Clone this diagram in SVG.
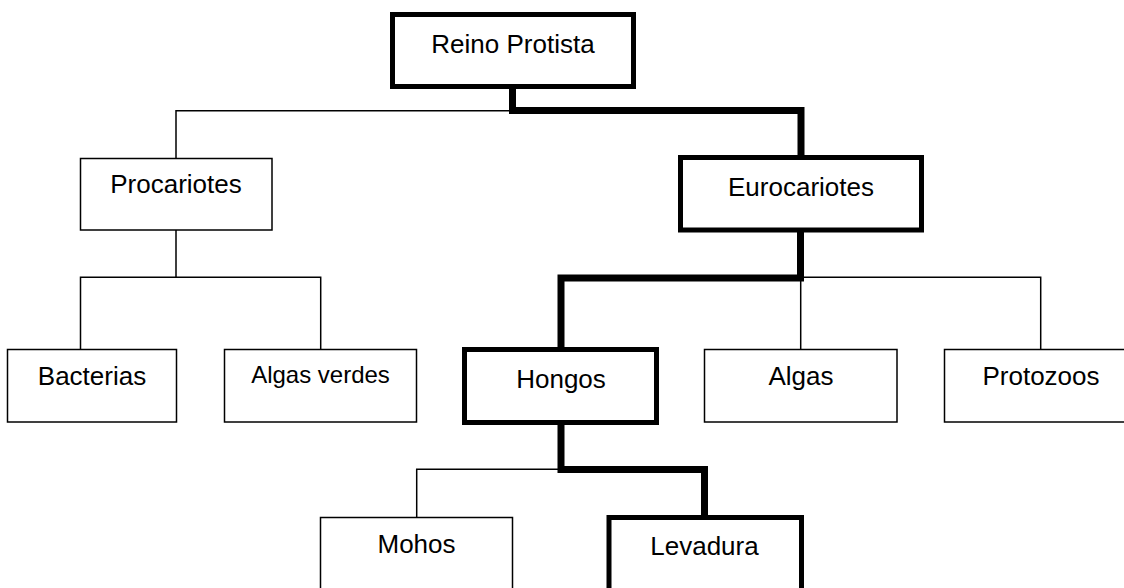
<svg xmlns="http://www.w3.org/2000/svg" width="1124" height="588" viewBox="0 0 1124 588">
<style>
.box{fill:#fff;stroke:#000;stroke-width:1.5}
.bold{fill:#fff;stroke:#000;stroke-width:5}
.thin{fill:none;stroke:#000;stroke-width:1.5}
.thick{fill:none;stroke:#000;stroke-width:7;stroke-linejoin:miter;stroke-linecap:square}
text{font-family:"Liberation Sans",Arial,sans-serif;font-size:26px;fill:#000;text-anchor:middle}
</style>
<rect width="1124" height="588" fill="#fff"/>
<g id="connectors">
<path class="thin" d="M176,158 V110.7 H512"/>
<path class="thin" d="M176,230 V277.3 M80.5,349 V277.3 H320.7 V349"/>
<path class="thin" d="M800.7,349 V277.3 H1040.7 V349"/>
<path class="thin" d="M416.7,517 V469.3 H561"/>
<path class="thick" d="M512.5,89 V110.5 H801 V155"/>
<path class="thick" d="M800.5,232 V278 H561 V347"/>
<path class="thick" d="M561,425 V469.5 H704.5 V515"/>
</g>
<g id="reino"><rect class="bold" x="392.5" y="14.5" width="241" height="72"/><text x="513" y="53">Reino Protista</text></g>
<g id="procariotes"><rect class="box" x="80.5" y="158.5" width="191.5" height="71.5"/><text x="176" y="193">Procariotes</text></g>
<g id="eurocariotes"><rect class="bold" x="680.5" y="157.5" width="241" height="72.5"/><text x="801" y="196">Eurocariotes</text></g>
<g id="bacterias"><rect class="box" x="7.5" y="349.5" width="169" height="72.5"/><text x="92" y="385">Bacterias</text></g>
<g id="algasverdes"><rect class="box" x="224.5" y="349.5" width="192" height="72.5"/><text x="320.5" y="383" style="font-size:24px">Algas verdes</text></g>
<g id="hongos"><rect class="bold" x="464.5" y="349.5" width="192" height="73"/><text x="561" y="388">Hongos</text></g>
<g id="algas"><rect class="box" x="704.5" y="349.5" width="192.5" height="72.5"/><text x="801" y="385">Algas</text></g>
<g id="protozoos"><rect class="box" x="944.5" y="349.5" width="200" height="72.5"/><text x="1041" y="385">Protozoos</text></g>
<g id="mohos"><rect class="box" x="320.5" y="517.5" width="192" height="80"/><text x="416.5" y="553">Mohos</text></g>
<g id="levadura"><rect class="bold" x="609" y="517.5" width="192.5" height="80"/><text x="704.5" y="555">Levadura</text></g>
</svg>
